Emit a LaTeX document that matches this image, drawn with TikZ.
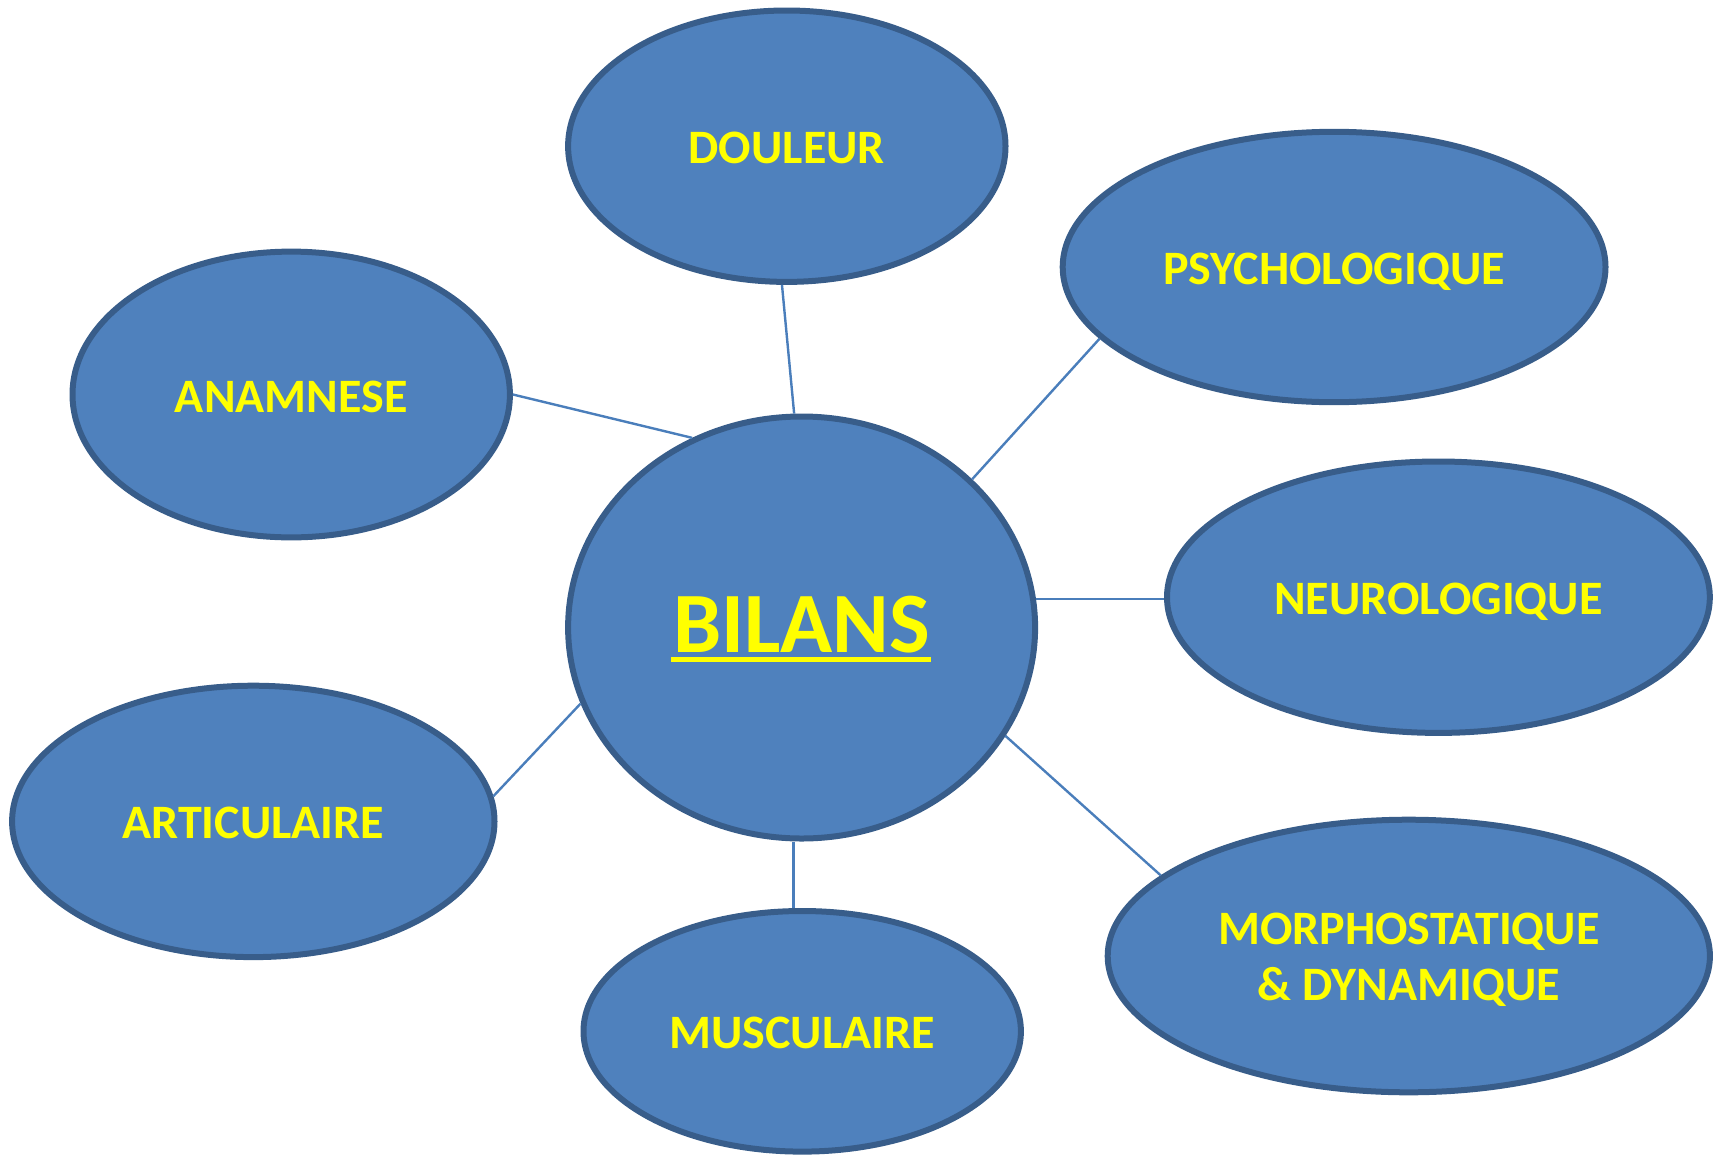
\documentclass[tikz,border=0pt]{standalone}
\usepackage{fontspec}
\setmainfont{Carlito}
\usetikzlibrary{shapes.geometric}
\definecolor{bfill}{HTML}{4F81BD}
\definecolor{bdraw}{HTML}{385D8A}
\definecolor{lnk}{HTML}{4A7EBB}
\definecolor{ytext}{HTML}{FFFF00}
\tikzset{
  bubble/.style={ellipse, fill=bfill, draw=bdraw, line width=6pt, inner sep=0pt,
    text=ytext, font=\fontsize{48}{56}\selectfont\bfseries, align=center},
  oneline/.style={text height=35pt, text depth=0pt},
  link/.style={draw=lnk, line width=2.4pt}
}
\begin{document}
\begin{tikzpicture}[x=1pt,y=-1pt]
\useasboundingbox (0,0) rectangle (1723,1154);
\node[bubble, oneline, minimum width=437.4, minimum height=271.4] (douleur) at (786.8,146.2) {DOULEUR};
\node[bubble, oneline, minimum width=542.8, minimum height=270.4] (psycho) at (1334.1,267.0) {PSYCHOLOGIQUE};
\node[bubble, oneline, minimum width=437.4, minimum height=285.8] (anam) at (291.2,394.5) {ANAMNESE};
\node[bubble, minimum width=467.0, minimum height=422.0] (bilans) at (801.6,627.5) {};
\node[text=ytext, font=\fontsize{86}{90}\selectfont\bfseries, inner sep=0pt, text height=54pt, text depth=0pt] (bilanstxt) at (801.6,625.5) {BILANS};
\fill[ytext] (671,656.5) rectangle (931,661.5);
\node[bubble, oneline, minimum width=542.8, minimum height=271.4] (neuro) at (1438.4,597.2) {NEUROLOGIQUE};
\node[bubble, oneline, minimum width=482.4, minimum height=271.4] (artic) at (253.3,821.4) {ARTICULAIRE};
\node[bubble, oneline, minimum width=437.4, minimum height=240.6] (muscu) at (802.2,1031.3) {MUSCULAIRE};
\node[bubble, text height=89.7pt, text depth=0pt, minimum width=602.2, minimum height=272.6] (morpho) at (1408.8,956.0) {MORPHOSTATIQUE\\\& DYNAMIQUE};
\draw[link] (douleur.268.6) -- (bilans.92.2);
\draw[link] (anam.0) -- (bilans.120.7);
\draw[link] (bilans.41.3) -- (psycho.197.2);
\draw[link] (bilans.7.5) -- (bilans.7.5 -| neuro.west);
\draw[link] (bilans.332.8) -- (morpho.162.4);
\draw[link] (muscu.94.4 |- bilans.south) -- (muscu.94.4);
\draw[link] (artic.6.7) -- (bilans.199.1);
\end{tikzpicture}
\end{document}
